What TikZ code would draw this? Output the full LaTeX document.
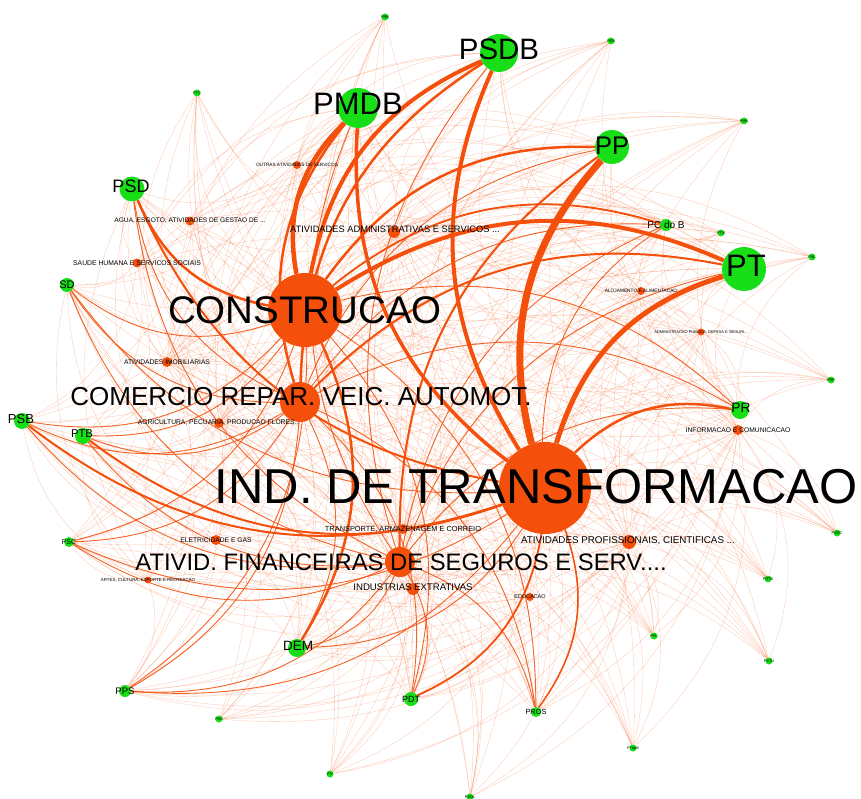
\documentclass[tikz,border=0pt]{standalone}
\usepackage{fontspec}
\setmainfont{Liberation Sans}
\usetikzlibrary{graphs}
\usetikzlibrary{backgrounds}

\definecolor{partygreen}{RGB}{24,222,24}
\definecolor{sectororange}{RGB}{244,80,12}
\newcommand{\lblsize}[1]{\fontsize{#1}{#1}\selectfont}

\begin{document}
\begin{tikzpicture}[
x=1pt, y=-1pt,
party/.style={
	% The shape:
	circle, inner sep=0pt,
	% The filling:
	fill=partygreen},
sector/.style={
	% The shape:
	circle, inner sep=0pt,
	% The filling:
	fill=sectororange},
lbl/.style={inner sep=0pt, text=black},
% thin links, all bent the same way
thinedge/.style={draw=sectororange, opacity=.3, line width=.35pt, bend right=28},
midedge/.style={draw=sectororange, opacity=.85, line width=.9pt, bend right=28},
heavy/.style={draw=sectororange, bend right=28},
]
\useasboundingbox (0,0) rectangle (861,799);

% sectors
\node (ind) [sector, minimum size=92pt] at (545,488) {};
\node (cons) [sector, minimum size=74pt] at (305,310) {};
\node (com) [sector, minimum size=40pt] at (300,402) {};
\node (fin) [sector, minimum size=30pt] at (400,562) {};
\node (adm) [sector, minimum size=12pt] at (394,232) {};
\node (outras) [sector, minimum size=8pt] at (297,165) {};
\node (agua) [sector, minimum size=9pt] at (190,221) {};
\node (saude) [sector, minimum size=9pt] at (137,263) {};
\node (imob) [sector, minimum size=10pt] at (167,362) {};
\node (agri) [sector, minimum size=10pt] at (219,423) {};
\node (aloj) [sector, minimum size=8pt] at (641,291) {};
\node (admpub) [sector, minimum size=7pt] at (701,332) {};
\node (info) [sector, minimum size=10pt] at (738,430) {};
\node (prof) [sector, minimum size=14pt] at (629,542) {};
\node (transp) [sector, minimum size=10pt] at (403,529) {};
\node (eletr) [sector, minimum size=10pt] at (216,540) {};
\node (artes) [sector, minimum size=7pt] at (148,580) {};
\node (extr) [sector, minimum size=12pt] at (413,589) {};
\node (educ) [sector, minimum size=8pt] at (530,597) {};

% parties
\node (psdb) [party, minimum size=38pt] at (499,53) {};
\node (pmdb) [party, minimum size=40pt] at (358,108) {};
\node (pp) [party, minimum size=34pt] at (612,147) {};
\node (pt) [party, minimum size=44pt] at (744,269) {};
\node (psd) [party, minimum size=25pt] at (132,189) {};
\node (sd) [party, minimum size=14pt] at (67,285) {};
\node (psb) [party, minimum size=16pt] at (22,421) {};
\node (ptb) [party, minimum size=16pt] at (83,436) {};
\node (pcdob) [party, minimum size=12pt] at (666,225) {};
\node (pr) [party, minimum size=18pt] at (740,410) {};
\node (dem) [party, minimum size=18pt] at (297,648) {};
\node (pdt) [party, minimum size=14pt] at (411,699) {};
\node (pros) [party, minimum size=10pt] at (536,712) {};
\node (pps) [party, minimum size=12pt] at (125,691) {};
\node (psc) [party, minimum size=10pt] at (69,542) {};
\node (prb) [party, minimum size=7pt] at (385,17) {};
\node (ptc) [party, minimum size=7pt] at (197,93) {};
\node (pen) [party, minimum size=7pt] at (611,41) {};
\node (pmn) [party, minimum size=7pt] at (744,121) {};
\node (ptn) [party, minimum size=7pt] at (721,233) {};
\node (psl) [party, minimum size=7pt] at (812,257) {};
\node (prp) [party, minimum size=7pt] at (831,380) {};
\node (psdc) [party, minimum size=7pt] at (837,533) {};
\node (prtb) [party, minimum size=7pt] at (768,579) {};
\node (ppl) [party, minimum size=7pt] at (654,636) {};
\node (ptdob) [party, minimum size=7pt] at (633,748) {};
\node (pstu) [party, minimum size=7pt] at (769,661) {};
\node (psol) [party, minimum size=7pt] at (470,797) {};
\node (pv) [party, minimum size=7pt] at (330,774) {};
\node (phs) [party, minimum size=7pt] at (219,719) {};

\begin{scope}[on background layer]
\graph [use existing nodes, edges={thinedge}] {
	{psdb, pmdb, pp, pt, psd, sd, psb, ptb, pcdob, pr, dem, pdt, pros, pps, psc} --[complete bipartite]
	{ind, cons, com, fin, adm, outras, agua, saude, imob, agri, aloj, admpub, info, prof, transp, eletr, artes, extr, educ}
};
\graph [use existing nodes, edges={thinedge}] {
	{prb, ptc, pen, pmn, ptn, psl, prp, psdc, prtb, ppl, ptdob, pstu, psol, pv, phs} --[complete bipartite]
	{ind, cons, com, fin, adm, prof, transp, agri, extr, info, imob}
};
\graph [use existing nodes, edges={midedge}] {
	{psdb, pmdb, pp, pt, psd, sd, psb, ptb, pcdob, pr, dem, pdt, pros, pps, psc} --[complete bipartite] {ind, cons, com, fin}
};
\draw[heavy, line width=7pt] (pp) to (ind);
\draw[heavy, line width=4.5pt] (pmdb) to (cons);
\draw[heavy, line width=4pt] (psdb) to (ind);
\draw[heavy, line width=4pt] (psdb) to (cons);
\draw[heavy, line width=3.5pt] (pmdb) to (ind);
\draw[heavy, line width=5pt] (pt) to (ind);
\draw[heavy, line width=4pt] (pt) to (cons);
\draw[heavy, line width=2.5pt] (pp) to (cons);
\draw[heavy, line width=2.5pt] (psd) to (cons);
\draw[heavy, line width=2.5pt] (psdb) to (com);
\draw[heavy, line width=2.5pt] (pmdb) to (com);
\draw[heavy, line width=2pt] (pt) to (com);
\draw[heavy, line width=2pt] (pp) to (fin);
\draw[heavy, line width=2.5pt] (pr) to (ind);
\draw[heavy, line width=2.5pt] (dem) to (cons);
\draw[heavy, line width=2pt] (psb) to (ind);
\draw[heavy, line width=2pt] (ptb) to (ind);
\draw[heavy, line width=1.8pt] (pdt) to (ind);
\draw[heavy, line width=1.5pt] (pros) to (ind);
\draw[heavy, line width=2pt] (psd) to (ind);
\draw[heavy, line width=1.8pt] (pcdob) to (cons);
\end{scope}

% sector labels
\node (indL) [lbl, font=\lblsize{49}] at (536,487) {IND. DE TRANSFORMACAO};
\node (consL) [lbl, font=\lblsize{38.5}] at (cons) {CONSTRUCAO};
\node (comL) [lbl, font=\lblsize{26}] at (301,397) {COMERCIO REPAR. VEIC. AUTOMOT.};
\node (finL) [lbl, font=\lblsize{23.8}] at (401,562) {ATIVID. FINANCEIRAS DE SEGUROS E SERV....};
\node (admL) [lbl, font=\lblsize{9.3}] at (395,229) {ATIVIDADES ADMINISTRATIVAS E SERVICOS ...};
\node (outrasL) [lbl, font=\lblsize{4.7}] at (outras) {OUTRAS ATIVIDADES DE SERVICOS};
\node (aguaL) [lbl, font=\lblsize{6.6}] at (agua) {AGUA, ESGOTO, ATIVIDADES DE GESTAO DE ...};
\node (saudeL) [lbl, font=\lblsize{6.8}] at (saude) {SAUDE HUMANA E SERVICOS SOCIAIS};
\node (imobL) [lbl, font=\lblsize{6.7}] at (imob) {ATIVIDADES IMOBILIARIAS};
\node (agriL) [lbl, font=\lblsize{6.7}] at (agri) {AGRICULTURA, PECUARIA, PRODUCAO FLORES...};
\node (alojL) [lbl, font=\lblsize{4.8}] at (aloj) {ALOJAMENTO E ALIMENTACAO};
\node (admpubL) [lbl, font=\lblsize{4}] at (admpub) {ADMINISTRACAO PUBLICA, DEFESA E SEGURI...};
\node (infoL) [lbl, font=\lblsize{6.7}] at (info) {INFORMACAO E COMUNICACAO};
\node (profL) [lbl, font=\lblsize{9.8}] at (628,541) {ATIVIDADES PROFISSIONAIS, CIENTIFICAS ...};
\node (transpL) [lbl, font=\lblsize{7.4}] at (transp) {TRANSPORTE, ARMAZENAGEM E CORREIO};
\node (eletrL) [lbl, font=\lblsize{6.7}] at (eletr) {ELETRICIDADE E GAS};
\node (artesL) [lbl, font=\lblsize{4.4}] at (artes) {ARTES, CULTURA, ESPORTE E RECREACAO};
\node (extrL) [lbl, font=\lblsize{9.6}] at (413,587) {INDUSTRIAS EXTRATIVAS};
\node (educL) [lbl, font=\lblsize{5.5}] at (educ) {EDUCACAO};

% party labels
\node (psdbL) [lbl, font=\lblsize{29.5}] at (499,49) {PSDB};
\node (pmdbL) [lbl, font=\lblsize{31}] at (358,104) {PMDB};
\node (ppL) [lbl, font=\lblsize{25.5}] at (612,146) {PP};
\node (ptL) [lbl, font=\lblsize{31}] at (746,266) {PT};
\node (psdL) [lbl, font=\lblsize{18}] at (131,186) {PSD};
\node (sdL) [lbl, font=\lblsize{11}] at (sd) {SD};
\node (psbL) [lbl, font=\lblsize{13}] at (21,419) {PSB};
\node (ptbL) [lbl, font=\lblsize{11.3}] at (82,434) {PTB};
\node (pcdobL) [lbl, font=\lblsize{10}] at (pcdob) {PC do B};
\node (prL) [lbl, font=\lblsize{13.7}] at (741,408) {PR};
\node (demL) [lbl, font=\lblsize{13.5}] at (298,646) {DEM};
\node (pdtL) [lbl, font=\lblsize{9}] at (pdt) {PDT};
\node (prosL) [lbl, font=\lblsize{7.4}] at (pros) {PROS};
\node (ppsL) [lbl, font=\lblsize{9.5}] at (pps) {PPS};
\node (pscL) [lbl, font=\lblsize{7}] at (psc) {PSC};
\node (prbL) [lbl, font=\lblsize{3.8}] at (prb) {PRB};
\node (ptcL) [lbl, font=\lblsize{3.8}] at (ptc) {PTC};
\node (penL) [lbl, font=\lblsize{3.8}] at (pen) {PEN};
\node (pmnL) [lbl, font=\lblsize{3.8}] at (pmn) {PMN};
\node (ptnL) [lbl, font=\lblsize{3.8}] at (ptn) {PTN};
\node (pslL) [lbl, font=\lblsize{3.8}] at (psl) {PSL};
\node (prpL) [lbl, font=\lblsize{3.8}] at (prp) {PRP};
\node (psdcL) [lbl, font=\lblsize{3.8}] at (psdc) {PSDC};
\node (prtbL) [lbl, font=\lblsize{3.8}] at (prtb) {PRTB};
\node (pplL) [lbl, font=\lblsize{3.8}] at (ppl) {PPL};
\node (ptdobL) [lbl, font=\lblsize{3.8}] at (ptdob) {PTdoB};
\node (pstuL) [lbl, font=\lblsize{3.8}] at (pstu) {PSTU};
\node (psolL) [lbl, font=\lblsize{3.8}] at (psol) {PSOL};
\node (pvL) [lbl, font=\lblsize{3.8}] at (pv) {PV};
\node (phsL) [lbl, font=\lblsize{3.8}] at (phs) {PHS};
\end{tikzpicture}
\end{document}
